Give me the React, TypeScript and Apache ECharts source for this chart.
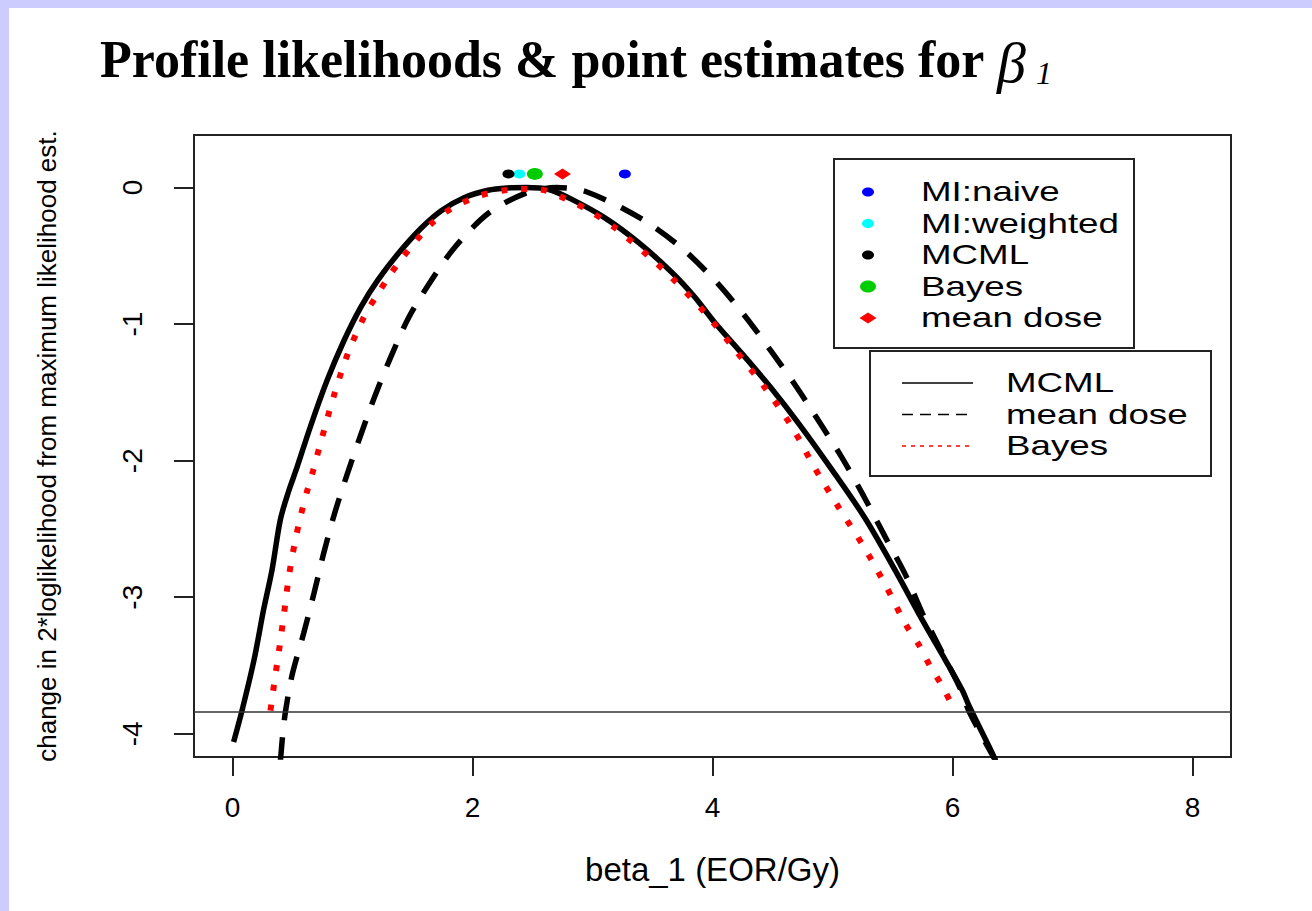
import React, { useEffect, useRef } from "react";
import * as echarts from "echarts";

// ---------- data ----------
const xTickValues = [0, 2, 4, 6, 8];
const yTickValues = [-4, -3, -2, -1, 0];
const chiSquareCut = -3.84;

const mcmlX = [0.01, 0.08, 0.18, 0.26, 0.33, 0.40, 0.47, 0.53, 0.65, 0.79, 0.93, 1.07, 1.21, 1.38, 1.57, 1.74, 1.93, 2.13, 2.29, 2.45, 2.63, 2.82, 3.10, 3.38, 3.66, 3.85, 4.02, 4.25, 4.50, 4.72, 4.99, 5.27, 5.52, 5.75, 5.94, 6.08, 6.14, 6.33, 6.36];
const mcmlY = [-4.06, -3.83, -3.46, -3.09, -2.80, -2.43, -2.22, -2.07, -1.75, -1.41, -1.12, -0.875, -0.68, -0.485, -0.30, -0.17, -0.075, -0.02, -0.003, 0.0, -0.012, -0.083, -0.22, -0.40, -0.62, -0.80, -0.99, -1.22, -1.48, -1.73, -2.06, -2.42, -2.80, -3.17, -3.46, -3.68, -3.80, -4.14, -4.2];

const meanDoseX = [0.40, 0.42, 0.445, 0.50, 0.595, 0.68, 0.76, 0.85, 0.96, 1.07, 1.19, 1.32, 1.47, 1.65, 1.85, 2.13, 2.43, 2.70, 2.96, 3.41, 3.74, 4.02, 4.27, 4.49, 4.70, 4.90, 5.08, 5.26, 5.44, 5.61, 5.75, 5.91, 6.07, 6.14, 6.36];
const meanDoseY = [-4.2, -4.0, -3.82, -3.56, -3.26, -2.97, -2.68, -2.39, -2.09, -1.81, -1.52, -1.24, -0.95, -0.69, -0.44, -0.19, -0.046, 0.0, -0.034, -0.23, -0.44, -0.68, -0.94, -1.20, -1.46, -1.73, -1.98, -2.26, -2.56, -2.84, -3.12, -3.40, -3.68, -3.84, -4.2];

const bayesX = [0.317, 0.35, 0.39, 0.43, 0.47, 0.52, 0.57, 0.62, 0.67, 0.75, 0.85, 0.96, 1.10, 1.21, 1.32, 1.42, 1.53, 1.65, 1.83, 2.06, 2.29, 2.53, 2.78, 2.99, 3.18, 3.49, 3.66, 3.94, 4.19, 4.44, 4.66, 4.85, 5.05, 5.26, 5.44, 5.61, 5.72, 5.81, 5.90, 5.99, 6.02];
const bayesY = [-3.83, -3.62, -3.38, -3.12, -2.85, -2.60, -2.40, -2.23, -2.08, -1.82, -1.51, -1.22, -0.94, -0.78, -0.63, -0.51, -0.39, -0.27, -0.15, -0.06, -0.017, -0.01, -0.083, -0.18, -0.29, -0.52, -0.66, -0.92, -1.19, -1.47, -1.75, -2.05, -2.34, -2.63, -2.91, -3.20, -3.35, -3.50, -3.63, -3.78, -3.84];

const estimateNames = ["MI:naive", "MI:weighted", "MCML", "Bayes", "mean dose"];
const estimateX = [3.27, 2.39, 2.30, 2.52, 2.75];
const estimateY = [0.1, 0.1, 0.1, 0.1, 0.1];

const curveNames = ["MCML", "mean dose", "Bayes"];

// ---------- styles ----------
const SANS = "'Liberation Sans', Arial, Helvetica, sans-serif";
const SERIF = "'Liberation Serif', 'Times New Roman', serif";

const estimateStyle: Record<string, { color: string; symbol: string; size: number[] }> = {
  "MI:naive": { color: "#0000FF", symbol: "circle", size: [12, 9] },
  "MI:weighted": { color: "#00FFFF", symbol: "circle", size: [12, 9] },
  MCML: { color: "#000000", symbol: "circle", size: [12, 9] },
  Bayes: { color: "#00CD00", symbol: "circle", size: [16, 12] },
  "mean dose": { color: "#FF0000", symbol: "diamond", size: [17, 11] },
};

const curveStyle: Record<string, { color: string; width: number; dash: any; legendDash: number[] | null }> = {
  MCML: { color: "#000000", width: 5.5, dash: "solid", legendDash: null },
  "mean dose": { color: "#000000", width: 5.5, dash: [24, 17], legendDash: [11, 7] },
  Bayes: { color: "#FF0000", width: 6, dash: [6, 14], legendDash: [4, 5] },
};

const pairs = (xs: number[], ys: number[]) => xs.map((x, i) => [x, ys[i]]);

const curveData: Record<string, number[][]> = {
  MCML: pairs(mcmlX, mcmlY),
  "mean dose": pairs(meanDoseX, meanDoseY),
  Bayes: pairs(bayesX, bayesY),
};

function buildLegendGraphics() {
  const els: any[] = [];
  // Legend 1: point estimates
  els.push({
    type: "rect",
    z: 100,
    shape: { x: 834, y: 159, width: 300, height: 189 },
    style: { fill: "#FFFFFF", stroke: "#222222", lineWidth: 2 },
  });
  estimateNames.forEach((name, i) => {
    const cy = 192 + i * 31.5;
    const st = estimateStyle[name];
    const [w, h] = st.size;
    if (st.symbol === "diamond") {
      els.push({
        type: "polygon",
        z: 101,
        shape: { points: [[868 - w / 2, cy], [868, cy - h / 2], [868 + w / 2, cy], [868, cy + h / 2]] },
        style: { fill: st.color },
      });
    } else {
      els.push({
        type: "ellipse",
        z: 101,
        shape: { cx: 868, cy, rx: w / 2, ry: h / 2 },
        style: { fill: st.color },
      });
    }
    els.push({
      type: "text",
      z: 101,
      x: 921,
      y: cy,
      scaleX: 1.36,
      style: { text: name, fontSize: 27, fontFamily: SANS, fill: "#000000", align: "left", verticalAlign: "middle" },
    });
  });
  // Legend 2: curves
  els.push({
    type: "rect",
    z: 100,
    shape: { x: 870, y: 351, width: 341, height: 125 },
    style: { fill: "#FFFFFF", stroke: "#222222", lineWidth: 2 },
  });
  curveNames.forEach((name, i) => {
    const cy = 383 + i * 31.5;
    const st = curveStyle[name];
    els.push({
      type: "line",
      z: 101,
      shape: { x1: 902, y1: cy, x2: 973, y2: cy },
      style: { stroke: st.color, lineWidth: 1.5, lineDash: st.legendDash || undefined },
    });
    els.push({
      type: "text",
      z: 101,
      x: 1006,
      y: cy,
      scaleX: 1.36,
      style: { text: name, fontSize: 27, fontFamily: SANS, fill: "#000000", align: "left", verticalAlign: "middle" },
    });
  });
  // Title symbol beta with subscript 1
  els.push({
    type: "text",
    x: 997,
    y: 62,
    style: { text: "β", fontSize: 58, fontFamily: SERIF, fontStyle: "italic", fill: "#000000", align: "left", verticalAlign: "middle" },
  });
  els.push({
    type: "text",
    x: 1036,
    y: 73,
    style: { text: "1", fontSize: 32, fontFamily: SERIF, fontStyle: "italic", fill: "#000000", align: "left", verticalAlign: "middle" },
  });
  return els;
}

function buildOption() {
  const lineSeries = curveNames.map((name, i) => {
    const st = curveStyle[name];
    const s: any = {
      type: "line",
      name,
      data: curveData[name],
      symbol: "none",
      showSymbol: false,
      smooth: 0.3,
      z: 3 + i,
      emphasis: { disabled: true },
      lineStyle: { color: st.color, width: st.width, type: st.dash, cap: "butt" },
    };
    if (i === 0) {
      s.markLine = {
        silent: true,
        symbol: ["none", "none"],
        label: { show: false },
        emphasis: { disabled: true },
        lineStyle: { color: "#333333", width: 1.5, type: "solid" },
        data: [{ yAxis: chiSquareCut }],
      };
    }
    return s;
  });

  const pointSeries = estimateNames.map((name, i) => {
    const st = estimateStyle[name];
    return {
      type: "scatter",
      name: name + " estimate",
      data: [[estimateX[i], estimateY[i]]],
      symbol: st.symbol,
      symbolSize: st.size,
      z: 10,
      emphasis: { disabled: true },
      itemStyle: { color: st.color, opacity: 1 },
    };
  });

  return {
    animation: false,
    backgroundColor: "transparent",
    title: {
      text: "Profile likelihoods & point estimates for",
      left: 100,
      top: 33,
      padding: 0,
      textStyle: { fontFamily: SERIF, fontWeight: "bold", fontSize: 52, color: "#000000" },
    },
    grid: {
      left: 194,
      right: 81,
      top: 135,
      bottom: 154,
      show: true,
      borderColor: "#222222",
      borderWidth: 2,
      backgroundColor: "transparent",
    },
    xAxis: {
      type: "value",
      min: -0.32,
      max: 8.32,
      splitLine: { show: false },
      axisLine: { show: false, onZero: false },
      axisTick: { show: true, customValues: xTickValues, length: 19, lineStyle: { color: "#222222", width: 2 } },
      axisLabel: { customValues: xTickValues, margin: 36, fontSize: 28, fontFamily: SANS, color: "#000000" },
      name: "beta_1 (EOR/Gy)",
      nameLocation: "middle",
      nameGap: 96,
      nameTextStyle: { fontSize: 33, fontFamily: SANS, color: "#000000" },
    },
    yAxis: {
      type: "value",
      min: -4.17,
      max: 0.385,
      splitLine: { show: false },
      axisLine: { show: false, onZero: false },
      axisTick: { show: true, customValues: yTickValues, length: 20, lineStyle: { color: "#222222", width: 2 } },
      axisLabel: { customValues: yTickValues, rotate: 90, margin: 48, fontSize: 28, fontFamily: SANS, color: "#000000" },
      name: "change in 2*loglikelihood from maximum likelihood est.",
      nameLocation: "middle",
      nameGap: 134,
      nameTextStyle: { fontSize: 26, fontFamily: SANS, color: "#000000" },
    },
    graphic: { elements: buildLegendGraphics() },
    series: [...lineSeries, ...pointSeries],
  };
}

export default function App() {
  const ref = useRef<HTMLDivElement>(null);
  useEffect(() => {
    if (!ref.current) return;
    const chart = echarts.init(ref.current, null, { renderer: "svg" });
    chart.setOption(buildOption() as any);
    return () => {
      chart.dispose();
    };
  }, []);
  return (
    <div style={{ position: "fixed", left: 0, top: 0, width: 1312, height: 911, background: "#CCCCFF", overflow: "hidden" }}>
      <div style={{ position: "absolute", left: 9, top: 8, right: 0, bottom: 0, background: "#FFFFFF" }} />
      <div ref={ref} style={{ position: "absolute", left: 0, top: 0, width: 1312, height: 911 }} />
    </div>
  );
}
